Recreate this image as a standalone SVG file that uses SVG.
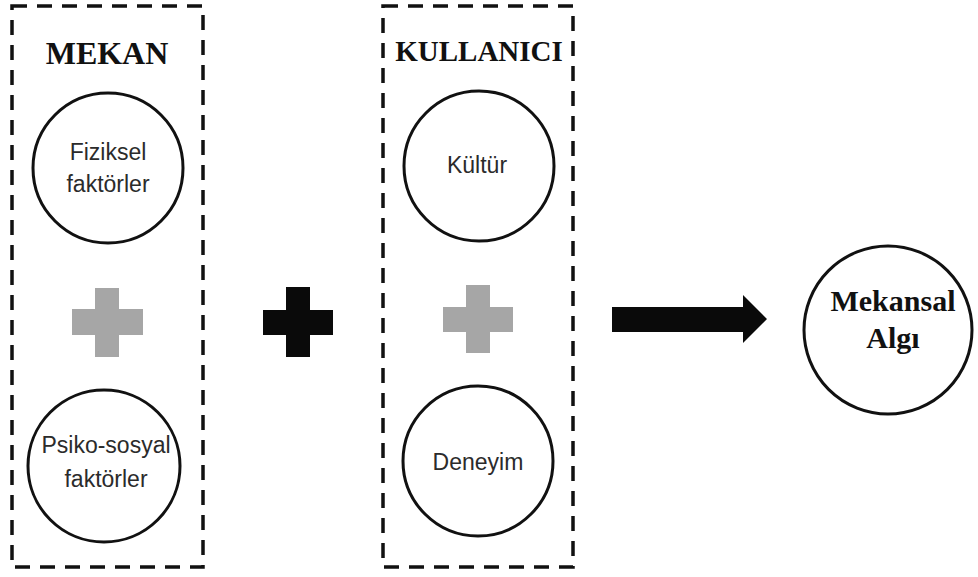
<svg xmlns="http://www.w3.org/2000/svg" width="978" height="577" viewBox="0 0 978 577">
<style>
.box{fill:none;stroke:#111;stroke-width:3.5;stroke-dasharray:15 10}
.node{fill:#fff;stroke:#111;stroke-width:3}
.sans{font-family:"Liberation Sans",Arial,sans-serif;font-size:23px;fill:#2b2b2b;text-anchor:middle}
.serif{font-family:"Liberation Serif","Times New Roman",serif;font-weight:bold;fill:#111;text-anchor:middle}
.gray{fill:#a6a6a6}
.black{fill:#0a0a0a}
</style>
<rect width="978" height="577" fill="#fff"/>
<g id="mekan-box">
<rect class="box" x="12" y="6" width="191" height="561"/>
<text class="serif" x="107" y="64" font-size="32">MEKAN</text>
</g>
<g id="kullanici-box">
<rect class="box" x="383" y="6" width="190" height="561"/>
<text class="serif" x="479" y="61" font-size="29">KULLANICI</text>
</g>
<g id="fiziksel">
<circle class="node" cx="108" cy="168" r="75"/>
<text class="sans" x="108" y="160">Fiziksel</text>
<text class="sans" x="108" y="192">faktörler</text>
</g>
<g id="psikososyal">
<circle class="node" cx="104" cy="466" r="76"/>
<text class="sans" x="106" y="453">Psiko-sosyal</text>
<text class="sans" x="106" y="487">faktörler</text>
</g>
<g id="kultur">
<circle class="node" cx="479" cy="166" r="75"/>
<text class="sans" x="477" y="173">Kültür</text>
</g>
<g id="deneyim">
<circle class="node" cx="478" cy="461" r="75"/>
<text class="sans" x="478" y="470">Deneyim</text>
</g>
<g id="mekansal-algi">
<circle class="node" cx="888" cy="330" r="84"/>
<text class="serif" x="893" y="311" font-size="30">Mekansal</text>
<text class="serif" x="893" y="348" font-size="30">Algı</text>
</g>
<g id="connectors">
<path class="gray" d="M95 288H119V309H143V335H119V357H95V335H72V309H95Z"/>
<path class="black" d="M286 287H310V310H333V335H310V357H286V335H263V310H286Z"/>
<path class="gray" d="M466 285H490V307H513V332H490V353H466V332H443V307H466Z"/>
<path class="black" d="M612 307H743V295L767 319L743 343V332H612Z"/>
</g>
</svg>
